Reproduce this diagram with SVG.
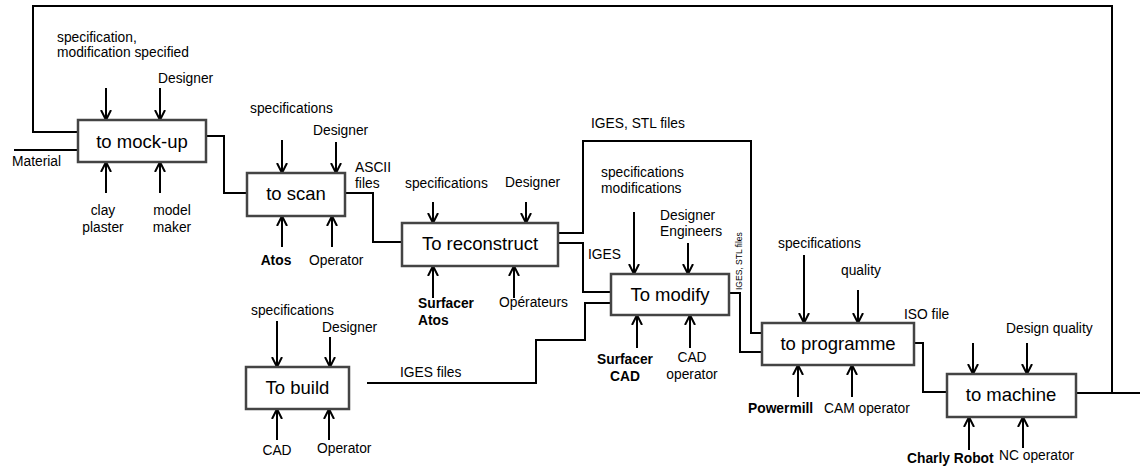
<svg xmlns="http://www.w3.org/2000/svg" width="1142" height="468" viewBox="0 0 1142 468">
<style>
.box{fill:#fff;stroke:#444;stroke-width:2.5}
.bt{font-family:"Liberation Sans",Arial,sans-serif;font-size:18.5px;fill:#000;text-anchor:middle}
.lb{font-family:"Liberation Sans",Arial,sans-serif;font-size:13.8px;fill:#000}
.b{font-weight:bold}
.m{text-anchor:middle}
.c{fill:none;stroke:#000;stroke-width:2}
.a{fill:none;stroke:#000;stroke-width:2;marker-end:url(#ah)}
</style>
<defs>
<marker id="ah" markerWidth="12" markerHeight="12" refX="10" refY="6" orient="auto" markerUnits="userSpaceOnUse">
<path d="M0,1 L10,6 L0,11" fill="none" stroke="#000" stroke-width="2"/>
</marker>
</defs>
<rect width="1142" height="468" fill="#fff"/>
<g id="connectors">
<path class="c" d="M1112,393 V6 H33 V132 H78"/>
<path class="c" d="M14,150 H78"/>
<path class="c" d="M206,136 H224 V193 H247"/>
<path class="c" d="M345,193 H373 V242 H402"/>
<path class="c" d="M558,233 H583 V141 H751 V333 H762"/>
<path class="c" d="M558,243 H583 V292 H611"/>
<path class="c" d="M367,383 H536 V340 H585 V303 H611"/>
<path class="c" d="M729,293 H740 V352 H762"/>
<path class="c" d="M914,343 H923 V392 H947"/>
<path class="c" d="M1076,393 H1140"/>
<path class="a" d="M106,88 V120"/><path class="a" d="M160,88 V120"/>
<path class="a" d="M106,193 V162"/><path class="a" d="M160,193 V162"/>
<path class="a" d="M282,140 V173"/><path class="a" d="M336,142 V173"/>
<path class="a" d="M282,247 V216"/><path class="a" d="M332,247 V216"/>
<path class="a" d="M433,202 V223"/><path class="a" d="M526,202 V223"/>
<path class="a" d="M433,298 V266"/><path class="a" d="M514,298 V266"/>
<path class="a" d="M634,212 V274"/><path class="a" d="M688,243 V274"/>
<path class="a" d="M637,348 V315"/><path class="a" d="M690,348 V315"/>
<path class="a" d="M804,255 V323"/><path class="a" d="M858,290 V323"/>
<path class="a" d="M798,397 V365"/><path class="a" d="M852,397 V365"/>
<path class="a" d="M973,343 V374"/><path class="a" d="M1027,343 V374"/>
<path class="a" d="M969,450 V417"/><path class="a" d="M1023,448 V417"/>
<path class="a" d="M277,321 V367"/><path class="a" d="M330,337 V367"/>
<path class="a" d="M277,440 V409"/><path class="a" d="M329,440 V409"/>
</g>
<g id="mockup">
<rect class="box" x="78" y="120" width="128" height="42"/>
<text class="bt" x="142" y="148">to mock-up</text>
<text class="lb" x="57" y="42">specification,</text>
<text class="lb" x="57" y="57">modification specified</text>
<text class="lb" x="158" y="83">Designer</text>
<text class="lb m" x="103" y="215">clay</text>
<text class="lb m" x="103" y="232">plaster</text>
<text class="lb m" x="172" y="215">model</text>
<text class="lb m" x="172" y="232">maker</text>
<text class="lb" x="12" y="166">Material</text>
</g>
<g id="scan">
<rect class="box" x="247" y="173" width="98" height="43"/>
<text class="bt" x="296" y="200">to scan</text>
<text class="lb" x="250" y="113">specifications</text>
<text class="lb" x="313" y="135">Designer</text>
<text class="lb" x="355" y="172">ASCII</text>
<text class="lb" x="355" y="188">files</text>
<text class="lb b m" x="276" y="265">Atos</text>
<text class="lb" x="309" y="265">Operator</text>
</g>
<g id="reconstruct">
<rect class="box" x="402" y="223" width="156" height="43"/>
<text class="bt" x="480" y="250">To reconstruct</text>
<text class="lb" x="405" y="188">specifications</text>
<text class="lb" x="505" y="187">Designer</text>
<text class="lb b" x="418" y="308">Surfacer</text>
<text class="lb b" x="418" y="325">Atos</text>
<text class="lb" x="499" y="307">Opérateurs</text>
<text class="lb" x="591" y="128">IGES, STL files</text>
<text class="lb" x="588" y="259">IGES</text>
</g>
<g id="modify">
<rect class="box" x="611" y="274" width="118" height="41"/>
<text class="bt" x="670" y="301">To modify</text>
<text class="lb" x="601" y="177">specifications</text>
<text class="lb" x="601" y="193">modifications</text>
<text class="lb" x="660" y="220">Designer</text>
<text class="lb" x="660" y="236">Engineers</text>
<text class="lb b m" x="625" y="364">Surfacer</text>
<text class="lb b m" x="625" y="381">CAD</text>
<text class="lb m" x="692" y="362">CAD</text>
<text class="lb m" x="692" y="379">operator</text>
<text class="lb" style="font-size:8.5px" transform="translate(742,290) rotate(-90)">IGES, STL files</text>
</g>
<g id="programme">
<rect class="box" x="762" y="323" width="152" height="42"/>
<text class="bt" x="838" y="350">to programme</text>
<text class="lb" x="778" y="248">specifications</text>
<text class="lb" x="841" y="275">quality</text>
<text class="lb" x="904" y="319">ISO file</text>
<text class="lb b" x="748" y="413">Powermill</text>
<text class="lb" x="824" y="413">CAM operator</text>
</g>
<g id="machine">
<rect class="box" x="947" y="374" width="129" height="43"/>
<text class="bt" x="1011" y="401">to machine</text>
<text class="lb" x="1006" y="333">Design quality</text>
<text class="lb b" x="907" y="463">Charly Robot</text>
<text class="lb" x="999" y="460">NC operator</text>
</g>
<g id="build">
<rect class="box" x="246" y="367" width="103" height="42"/>
<text class="bt" x="297.5" y="394">To build</text>
<text class="lb" x="251" y="315">specifications</text>
<text class="lb" x="322" y="332">Designer</text>
<text class="lb m" x="277" y="455">CAD</text>
<text class="lb" x="317" y="453">Operator</text>
<text class="lb" x="400" y="377">IGES files</text>
</g>
</svg>
